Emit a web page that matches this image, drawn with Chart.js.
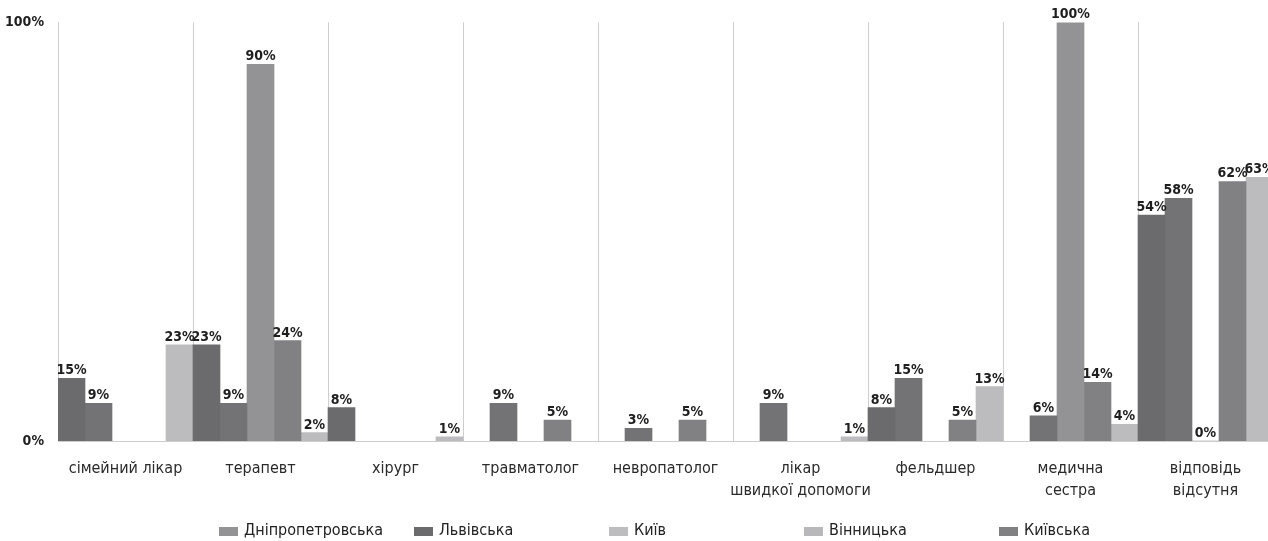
<!DOCTYPE html>
<html>
<head>
<meta charset="utf-8">
<script src="https://cdn.jsdelivr.net/npm/chart.js@4.4.0/dist/chart.umd.min.js"></script>
<style>
html, body { margin: 0; padding: 0; background: #fff; overflow: hidden; }
</style>
</head>
<body>
<canvas id="ChartElem" width="1275" height="541"></canvas>
<script>
// categories (x axis), multi-line ones as arrays
var categories = [
    ["сімейний лікар"], ["терапевт"], ["хірург"], ["травматолог"], ["невропатолог"],
    ["лікар", "швидкої допомоги"], ["фельдшер"], ["медична", "сестра"], ["відповідь", "відсутня"]
];

// series, in the order the bars stand inside each group
var lvivska      = [15, 23, 8, null, null, null, 8, null, 54];
var vinnytska    = [9, 9, null, 9, 3, 9, 15, 6, 58];
var dnipro       = [null, 90, null, null, null, null, null, 100, 0];
var kyivska      = [null, 24, null, 5, 5, null, 5, 14, 62];
var kyiv         = [23, 2, 1, null, null, 1, 13, 4, 63];

var yTicks = [0, 100];

// legend as it is printed under the chart
var legendNames = ["Дніпропетровська", "Львівська", "Київ", "Вінницька", "Київська"];
var legendColors = ["#939396", "#6b6b6e", "#bdbdc0", "#b8b8bb", "#818184"];

var FONT = "'Liberation Sans Narrow', 'DejaVu Sans Condensed', sans-serif";

var labelsPlugin = {
    id: "barLabels",
    afterDraw: function (chart) {
        var ctx = chart.ctx;
        ctx.save();
        ctx.fillStyle = "#1e1e1e";
        ctx.font = "bold 14px " + FONT;
        ctx.textAlign = "center";
        ctx.textBaseline = "alphabetic";
        chart.data.datasets.forEach(function (ds, i) {
            var meta = chart.getDatasetMeta(i);
            meta.data.forEach(function (bar, j) {
                var v = ds.data[j];
                if (v === null || v === undefined) return;
                ctx.fillText(v + "%", bar.x, bar.y - 4);
            });
        });

        // legend: equal slots like the original
        ctx.font = "16px " + FONT;
        ctx.textAlign = "left";
        ctx.textBaseline = "middle";
        var x0 = 219, slot = 195;
        for (let i = 0; i < legendNames.length; i++) {
            var x = x0 + i * slot;
            ctx.fillStyle = legendColors[i];
            ctx.fillRect(x, 527, 19, 9);
            ctx.fillStyle = "#222";
            ctx.fillText(legendNames[i], x + 25, 531);
        }
        ctx.restore();
    }
};

function BuildChart() {
    var chartContext = document.getElementById("ChartElem").getContext("2d");
    var barColors = ["#6b6b6e", "#737376", "#939396", "#818184", "#bcbcbf"];
    var series = [lvivska, vinnytska, dnipro, kyivska, kyiv];
    var names = ["Львівська", "Вінницька", "Дніпропетровська", "Київська", "Київ"];
    var datasets = [];
    for (let i = 0; i < series.length; i++) {
        datasets.push({
            label: names[i],
            data: series[i],
            backgroundColor: barColors[i],
            borderWidth: 0,
            categoryPercentage: 1,
            barPercentage: 1
        });
    }

    new Chart(chartContext, {
        type: "bar",
        data: { labels: categories, datasets: datasets },
        options: {
            responsive: false,
            animation: false,
            layout: { padding: { top: 22, right: 2, left: 0, bottom: 0 } },
            plugins: { legend: { display: false }, tooltip: { enabled: false } },
            scales: {
                x: {
                    grid: { color: "#cdcdcd", lineWidth: 1, offset: true, drawTicks: false },
                    border: { color: "#cdcdcd" },
                    ticks: { color: "#2a2a2a", font: { family: FONT, size: 16, lineHeight: 1.35 }, padding: 17, maxRotation: 0, autoSkip: false },
                    afterFit: function (scale) { scale.height = 100; }
                },
                y: {
                    min: 0, max: 100,
                    afterBuildTicks: function (scale) {
                        scale.ticks = yTicks.map(function (v) { return { value: v }; });
                    },
                    grid: { display: false, drawTicks: false },
                    border: { display: false },
                    ticks: {
                        color: "#1e1e1e", padding: 14,
                        font: { family: FONT, size: 14, weight: "bold" },
                        callback: function (v) { return v + "%"; }
                    },
                    afterFit: function (scale) { scale.width = 58; }
                }
            }
        },
        plugins: [labelsPlugin]
    });
}

BuildChart();
</script>
</body>
</html>
